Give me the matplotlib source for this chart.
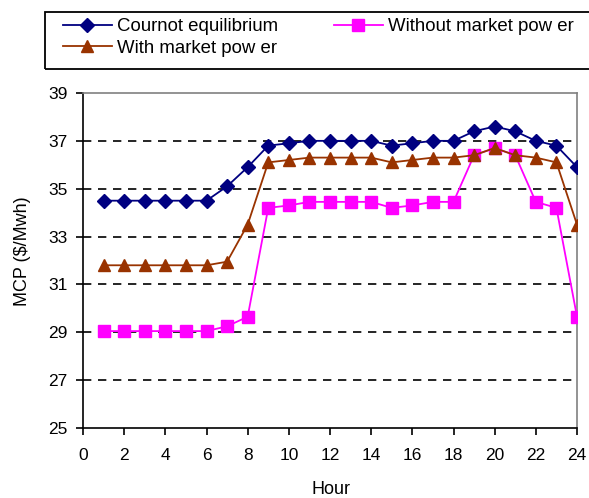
import matplotlib
matplotlib.use("Agg")
import matplotlib.pyplot as plt
from matplotlib.lines import Line2D
from matplotlib.patches import Rectangle

hours = list(range(1, 25))
cournot = [34.5, 34.5, 34.5, 34.5, 34.5, 34.5, 35.1, 35.9, 36.8, 36.9, 37.0, 37.0,
           37.0, 37.0, 36.8, 36.9, 37.0, 37.0, 37.4, 37.6, 37.4, 37.0, 36.8, 35.9]
with_mp = [31.8, 31.8, 31.8, 31.8, 31.8, 31.8, 31.95, 33.5, 36.1, 36.2, 36.3, 36.3,
           36.3, 36.3, 36.1, 36.2, 36.3, 36.3, 36.4, 36.7, 36.4, 36.3, 36.1, 33.5]
without_mp = [29.05, 29.05, 29.05, 29.05, 29.05, 29.05, 29.25, 29.65, 34.2, 34.3, 34.45, 34.45,
              34.45, 34.45, 34.2, 34.3, 34.45, 34.45, 36.4, 36.7, 36.4, 34.45, 34.2, 29.65]
xticks = list(range(0, 25, 2))
yticks = list(range(25, 40, 2))
labels = ["Cournot equilibrium", "With market pow er", "Without market pow er"]

plt.rcParams['font.family'] = ['Liberation Sans', 'DejaVu Sans']

W, H = 589, 498
fig = plt.figure(figsize=(W/100, H/100), dpi=100)
ax = fig.add_axes([83/W, 70/H, (577-83)/W, (428-93)/H])

ax.plot(hours, cournot, color='#000080', marker='D', markersize=7, lw=1.3, zorder=5)
ax.plot(hours, with_mp, color='#993300', marker='^', markersize=9, lw=1.3, zorder=4)
ax.plot(hours, without_mp, color='#FF00FF', marker='s', markersize=9, lw=1.3, zorder=3)

ax.set_xlim(0, 24)
ax.set_ylim(25, 39)
ax.set_xticks(xticks)
ax.set_yticks(yticks)
for y in yticks[1:-1]:
    ax.axhline(y, color='black', ls=(0, (5, 4)), lw=1.2, zorder=1)

for s in ['left', 'bottom']:
    ax.spines[s].set_color('black')
    ax.spines[s].set_linewidth(1.2)
for s in ['top', 'right']:
    ax.spines[s].set_color('#808080')
    ax.spines[s].set_linewidth(1.2)

ax.tick_params(direction='out', length=5, width=1.2, labelsize=12.5)
ax.tick_params(axis='x', pad=9.5)
ax.tick_params(axis='y', pad=6)
ax.set_xlabel('Hour', fontsize=13)
ax.set_ylabel('MCP (\\$/Mwh)', fontsize=13)
ax.xaxis.set_label_coords(0.503, -0.158)
ax.yaxis.set_label_coords(-0.105, 0.527)

handles = [
    Line2D([], [], color='#000080', marker='D', markersize=7, lw=1.3),
    Line2D([], [], color='#993300', marker='^', markersize=9, lw=1.3),
    Line2D([], [], color='#FF00FF', marker='s', markersize=9, lw=1.3),
]
leg = fig.legend(handles, labels, ncol=2, loc='upper left',
                 bbox_to_anchor=(63/W, 1 - 18/H),
                 frameon=False, fontsize=13.4, handlelength=2.63, handletextpad=0.27,
                 borderpad=0, labelspacing=0.25, columnspacing=3.0, borderaxespad=0)

fig.patches.append(Rectangle((45/W, 1 - 69/H), (600-45)/W, 57/H, transform=fig.transFigure,
                             fill=False, edgecolor='black', lw=1.3, clip_on=False))

fig.savefig('out.png', dpi=100)
